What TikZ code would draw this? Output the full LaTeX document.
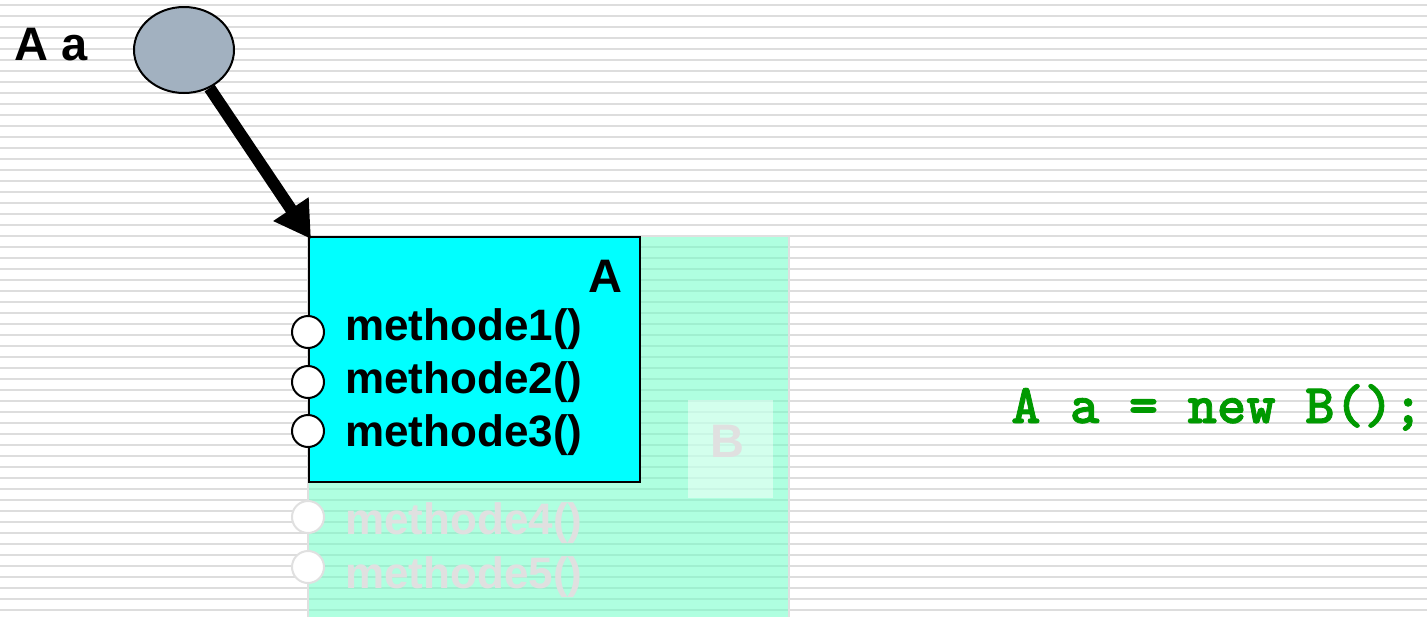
\documentclass[tikz,border=0pt]{standalone}
\usepackage{fontspec}
\setmainfont{Liberation Sans}
\newfontfamily\codefont[FakeBold=1.5]{lmmonolt10-bold.otf}
\usetikzlibrary{shapes.geometric,arrows.meta}
\definecolor{stripe}{RGB}{221,221,221}
\definecolor{faded}{RGB}{224,224,224}
\definecolor{mint}{RGB}{109,255,198}
\definecolor{varfill}{RGB}{162,177,192}
\definecolor{codegreen}{RGB}{0,153,0}
\definecolor{objcyan}{RGB}{0,255,255}
\tikzset{
  meth/.style={anchor=base west, inner sep=0pt, font=\fontsize{44}{50}\selectfont\bfseries},
  port/.style={circle, draw=black, fill=white, line width=2pt, minimum size=32pt, inner sep=0pt},
  fadedport/.style={circle, draw=faded, fill=white, line width=2pt, minimum size=32pt, inner sep=0pt},
  bigbold/.style={inner sep=0pt, font=\fontsize{47}{54}\selectfont\bfseries},
  refarrow/.style={line width=12pt, -{Triangle[length=36pt,width=40pt]}},
}
\begin{document}
\begin{tikzpicture}[x=1pt,y=-1pt]
\useasboundingbox (0,0) rectangle (1427,616);
\fill[white] (0,0) rectangle (1427,616);
\foreach \k in {0,...,55} {
  \draw[stripe, line width=2.5pt] (0,5+11*\k) -- (1427,5+11*\k);
}
% B object (faded)
\fill[mint, fill opacity=0.54] (308,236) rectangle (789,620);
\draw[faded, line width=2pt] (308,620) -- (308,236) -- (789,236) -- (789,620);
\node[fill=white, fill opacity=0.45, minimum width=85pt, minimum height=98pt, inner sep=0pt, anchor=north west] (Bbox) at (688,400) {};
\node[bigbold, text=faded, anchor=base] (Blabel) at (727,457) {B};
\node[fadedport] (p4) at (308,517) {};
\node[fadedport] (p5) at (308,567) {};
\node[meth, text=faded] (m4) at (345,534) {methode4()};
\node[meth, text=faded] (m5) at (345,588) {methode5()};
% A object
\node[draw=black, fill=objcyan, line width=2pt, minimum width=331pt, minimum height=245pt, inner sep=0pt, anchor=north west] (A) at (308,236) {};
\node[bigbold, anchor=base east] (Alabel) at (623,292) {A};
\node[port] (p1) at (308,332) {};
\node[port] (p2) at (308,382) {};
\node[port] (p3) at (308,431) {};
\node[meth] (m1) at (345,340) {methode1()};
\node[meth] (m2) at (345,393) {methode2()};
\node[meth] (m3) at (345,446) {methode3()};
% reference variable
\node[ellipse, draw=black, fill=varfill, line width=2pt, minimum width=100pt, minimum height=86pt, inner sep=0pt] (var) at (184,50) {};
\node[bigbold, anchor=base west] (varlabel) at (14,60) {A a};
\draw[refarrow] (var) -- ([shift={(3pt,-3pt)}]A.north west);
% code
\node[inner sep=0pt, anchor=base west, text=codegreen, font=\codefont\fontsize{56}{62}\selectfont] (code) at (1011,423) {A a = new B();};
\end{tikzpicture}
\end{document}
